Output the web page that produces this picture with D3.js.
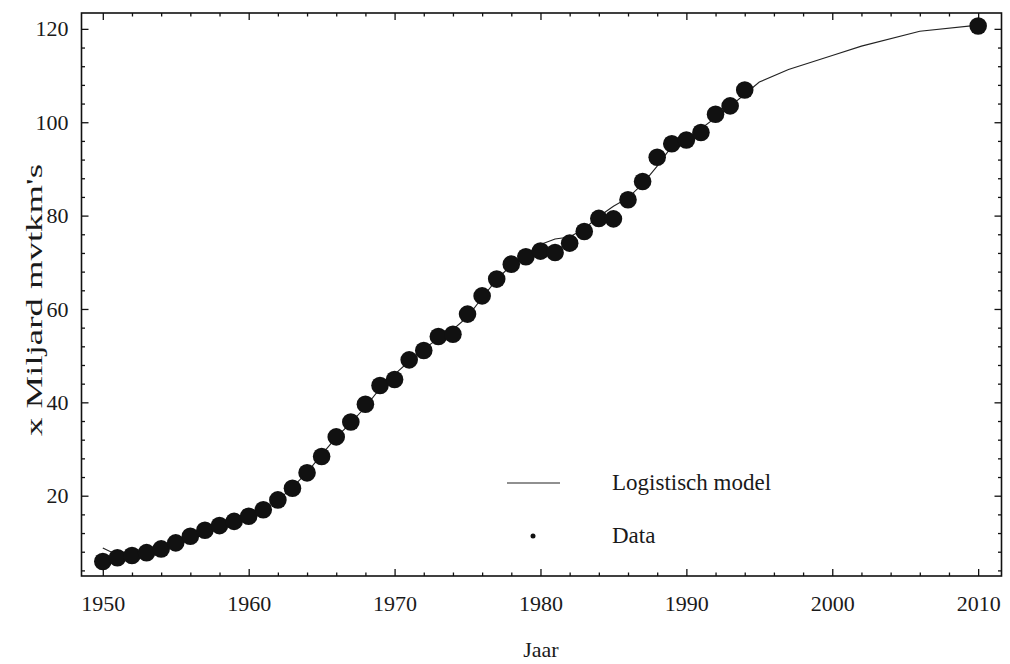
<!DOCTYPE html>
<html>
<head>
<meta charset="utf-8">
<script src="https://cdn.jsdelivr.net/npm/d3@7"></script>
<style>
  html, body { margin: 0; padding: 0; background: #fff; }
  svg { display: block; }
  text { font-family: "Liberation Serif", "Times New Roman", serif; fill: #1a1a1a; }
</style>
</head>
<body>
<svg id="chart" width="1010" height="664"></svg>
<script>
// ---- data ----
const dataYears = [1950,1951,1952,1953,1954,1955,1956,1957,1958,1959,
                   1960,1961,1962,1963,1964,1965,1966,1967,1968,1969,
                   1970,1971,1972,1973,1974,1975,1976,1977,1978,1979,
                   1980,1981,1982,1983,1984,1985,1986,1987,1988,1989,
                   1990,1991,1992,1993,1994,2010];
const dataValues = [5.9,6.7,7.2,7.8,8.6,9.9,11.3,12.6,13.6,14.5,
                    15.6,17.0,19.1,21.6,24.9,28.4,32.6,35.8,39.6,43.6,
                    44.9,49.1,51.1,54.1,54.6,58.9,62.8,66.4,69.6,71.2,
                    72.4,72.1,74.1,76.6,79.4,79.3,83.4,87.3,92.5,95.4,
                    96.2,97.8,101.7,103.5,106.9,120.6];
const modelYears = [1950,1951,1952,1953,1954,1955,1956,1957,1958,1959,
                    1960,1961,1962,1963,1964,1965,1966,1967,1968,1969,
                    1970,1971,1972,1973,1974,1975,1976,1977,1978,1979,
                    1980,1981,1982,1983,1984,1985,1986,1987,1988,1989,
                    1990,1991,1992,1993,1994,1995,1997,2000,2002,2006,2010];
const modelValues = [8.8,7.3,7.6,8.1,8.9,10.0,11.2,12.5,13.6,14.6,
                     15.6,17.0,19.0,21.8,25.0,28.8,32.5,35.6,39.0,43.0,
                     46.0,48.8,51.5,53.6,55.6,58.3,62.4,66.3,69.4,71.8,
                     73.8,75.0,75.4,77.2,79.8,82.0,83.8,86.8,90.6,94.8,
                     96.6,98.6,101.0,103.4,106.0,108.6,111.3,114.3,116.3,119.5,120.8];
const xMajorTicks = [1950,1960,1970,1980,1990,2000,2010];
const yMajorTicks = [20,40,60,80,100,120];
const xLabel = "Jaar";
const yLabel = "x Miljard mvtkm's";
const legendLabels = ["Logistisch model", "Data"];

// ---- layout ----
const svg = d3.select("#chart");
const pLeft = 81.5, pRight = 1001.5, pTop = 13, pBottom = 576;
const x = d3.scaleLinear().domain([1948.54, 2011.6]).range([pLeft, pRight]);
const y = d3.scaleLinear().domain([2.8, 123.4]).range([pBottom, pTop]);

const xMinor = d3.range(1950, 2012, 2).filter(v => v % 10 !== 0);
const yMinor = d3.range(4, 124, 4).filter(v => v % 20 !== 0);

function styleAxis(g) {
  g.select(".domain").remove();
  g.selectAll(".tick line").attr("stroke", "#111").attr("stroke-width", 1.3);
  g.selectAll(".tick text")
    .style("font-family", '"Liberation Serif", "Times New Roman", serif')
    .style("font-size", "22px").attr("fill", "#1a1a1a");
}

// bottom axis
svg.append("g").attr("transform", `translate(0,${pBottom})`)
  .call(d3.axisBottom(x).tickValues(xMajorTicks).tickFormat(d3.format("d")).tickSize(-7).tickPadding(19))
  .call(styleAxis);
svg.append("g").attr("transform", `translate(0,${pBottom})`)
  .call(d3.axisBottom(x).tickValues(xMinor).tickFormat("").tickSize(-3.5))
  .call(styleAxis);
// top axis
svg.append("g").attr("transform", `translate(0,${pTop})`)
  .call(d3.axisTop(x).tickValues(xMajorTicks).tickFormat("").tickSize(-7))
  .call(styleAxis);
svg.append("g").attr("transform", `translate(0,${pTop})`)
  .call(d3.axisTop(x).tickValues(xMinor).tickFormat("").tickSize(-3.5))
  .call(styleAxis);
// left axis
svg.append("g").attr("transform", `translate(${pLeft},0)`)
  .call(d3.axisLeft(y).tickValues(yMajorTicks).tickFormat(d3.format("d")).tickSize(-7).tickPadding(13))
  .call(styleAxis);
svg.append("g").attr("transform", `translate(${pLeft},0)`)
  .call(d3.axisLeft(y).tickValues(yMinor).tickFormat("").tickSize(-3.5))
  .call(styleAxis);
// right axis
svg.append("g").attr("transform", `translate(${pRight},0)`)
  .call(d3.axisRight(y).tickValues(yMajorTicks).tickFormat("").tickSize(-7))
  .call(styleAxis);
svg.append("g").attr("transform", `translate(${pRight},0)`)
  .call(d3.axisRight(y).tickValues(yMinor).tickFormat("").tickSize(-3.5))
  .call(styleAxis);

// frame
svg.append("rect").attr("x", pLeft).attr("y", pTop)
  .attr("width", pRight - pLeft).attr("height", pBottom - pTop)
  .attr("fill", "none").attr("stroke", "#111").attr("stroke-width", 1.6);

// model line
const line = d3.line().x((d, i) => x(modelYears[i])).y(d => y(d));
svg.append("path").datum(modelValues)
  .attr("d", line).attr("fill", "none").attr("stroke", "#222").attr("stroke-width", 1.1);

// data points
svg.append("g").selectAll("circle").data(dataValues).join("circle")
  .attr("cx", (d, i) => x(dataYears[i])).attr("cy", d => y(d))
  .attr("r", 8.8).attr("fill", "#111");

// axis titles
svg.append("text").attr("x", 541).attr("y", 657).attr("text-anchor", "middle")
  .style("font-size", "22px").text(xLabel);
svg.append("text").attr("transform", "translate(42,300) rotate(-90)")
  .attr("text-anchor", "middle").style("font-size", "23px")
  .attr("textLength", 272).attr("lengthAdjust", "spacingAndGlyphs")
  .text(yLabel);

// legend
svg.append("line").attr("x1", 507).attr("x2", 560).attr("y1", 483).attr("y2", 483)
  .attr("stroke", "#222").attr("stroke-width", 1.1);
svg.append("circle").attr("cx", 533).attr("cy", 536).attr("r", 2.5).attr("fill", "#111");
svg.append("text").attr("x", 612).attr("y", 490).style("font-size", "23px").text(legendLabels[0]);
svg.append("text").attr("x", 612).attr("y", 543).style("font-size", "23px").text(legendLabels[1]);
</script>
</body>
</html>
